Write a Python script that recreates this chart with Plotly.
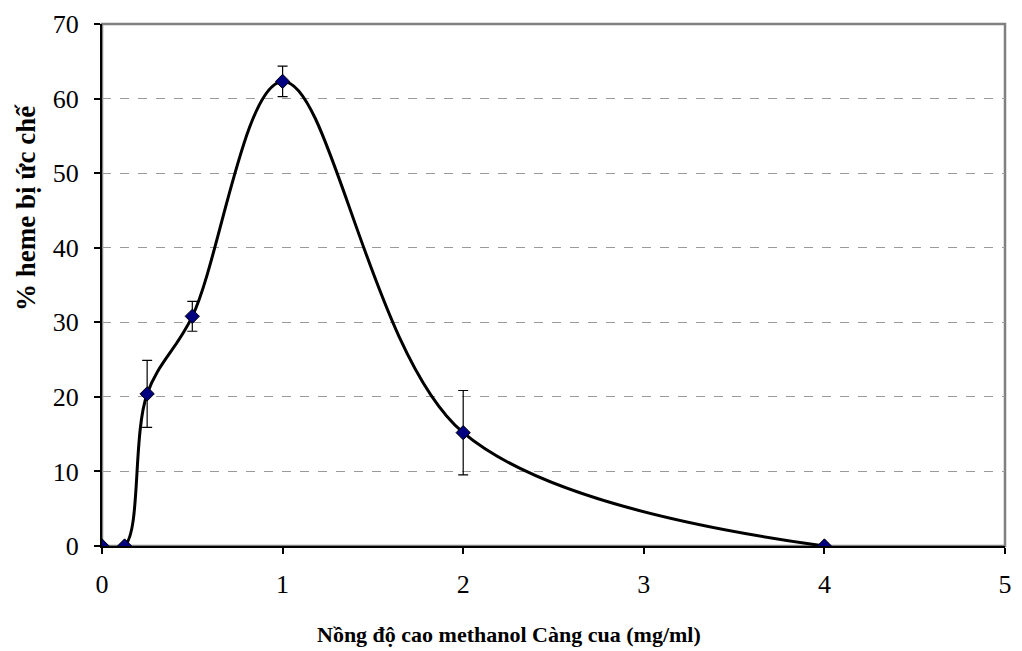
import plotly.graph_objects as go

concentration = [0, 0.125, 0.25, 0.5, 1, 2, 4]
inhibition = [0, 0, 20.4, 30.8, 62.3, 15.2, 0]
error = [0, 0, 4.5, 2.0, 2.05, 5.65, 0]

x_ticks = [0, 1, 2, 3, 4, 5]
y_ticks = [0, 10, 20, 30, 40, 50, 60, 70]

x_title = "Nồng độ cao methanol Càng cua (mg/ml)"
y_title = "% heme bị ức chế"

font_family = "Liberation Serif, Times New Roman, serif"

fig = go.Figure()

fig.add_trace(go.Scatter(
    x=concentration, y=inhibition,
    mode="lines",
    line=dict(color="black", width=3, shape="spline", smoothing=1.0),
    hoverinfo="skip",
    showlegend=False,
))

fig.add_trace(go.Scatter(
    x=concentration, y=inhibition,
    mode="markers",
    marker=dict(symbol="diamond", size=11, color="#000080",
                line=dict(color="black", width=1)),
    error_y=dict(type="data", array=error, visible=True,
                 color="black", thickness=1.2, width=5),
    showlegend=False,
))

fig.add_shape(type="rect", xref="x domain", yref="y domain",
              x0=0, x1=1, y0=0, y1=1,
              line=dict(color="#808080", width=2.5), layer="below")

fig.update_layout(
    width=1022, height=651,
    margin=dict(l=102, r=10, t=23, b=105),
    paper_bgcolor="white", plot_bgcolor="white",
    font=dict(family=font_family, size=26, color="black"),
    xaxis=dict(
        range=[0, 5], tickvals=x_ticks, ticktext=[str(v) for v in x_ticks],
        showgrid=False, zeroline=False,
        showline=True, linecolor="black", linewidth=2,
        ticks="outside", ticklen=6, tickwidth=1.5, tickcolor="black",
        ticklabelstandoff=8,
    ),
    yaxis=dict(
        range=[0, 70], tickvals=y_ticks, ticktext=[str(v) for v in y_ticks],
        showgrid=True, gridcolor="#9a9a9a", griddash="dash", gridwidth=1,
        zeroline=False,
        showline=True, linecolor="black", linewidth=2,
        ticks="outside", ticklen=6, tickwidth=1.5, tickcolor="black",
        ticklabelstandoff=10,
    ),
    annotations=[
        dict(text=f"<b>{x_title}</b>", xref="paper", yref="paper",
             x=0.451, y=-0.17, xanchor="center", yanchor="middle",
             showarrow=False, font=dict(family=font_family, size=22)),
        dict(text=f"<b>{y_title}</b>", xref="paper", yref="paper",
             x=-0.085, y=0.648, xanchor="center", yanchor="middle",
             textangle=-90, showarrow=False,
             font=dict(family=font_family, size=27)),
    ],
)

fig.write_html("out.html")
